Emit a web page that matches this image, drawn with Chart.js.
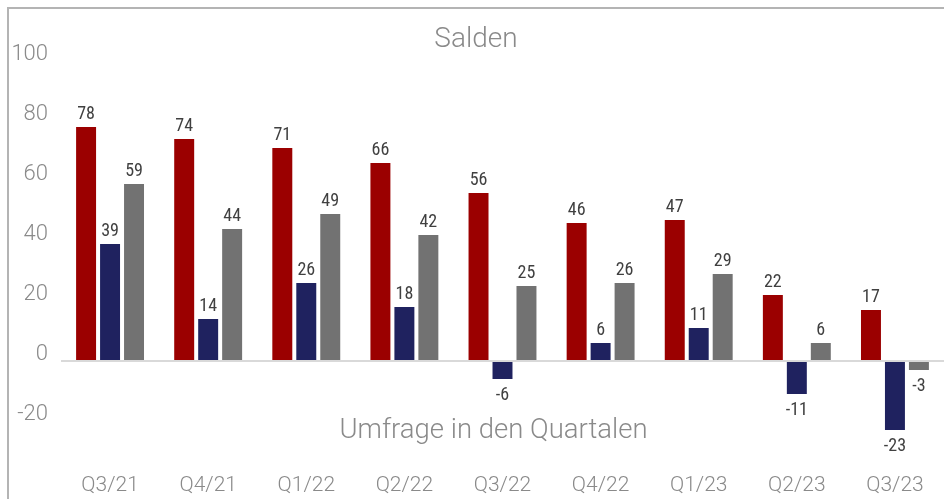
<!DOCTYPE html>
<html>
<head>
<meta charset="utf-8">
<script src="https://cdn.jsdelivr.net/npm/chart.js@4/dist/chart.umd.min.js"></script>
<style>
  html, body { margin: 0; padding: 0; background: #ffffff; }
  #wrap { position: relative; width: 944px; height: 499px; }
</style>
</head>
<body>
<div id="wrap"><canvas id="c" width="944" height="499"></canvas></div>
<script>
const categories = ['Q3/21', 'Q4/21', 'Q1/22', 'Q2/22', 'Q3/22', 'Q4/22', 'Q1/23', 'Q2/23', 'Q3/23'];
const seriesRed  = [78, 74, 71, 66, 56, 46, 47, 22, 17];
const seriesBlue = [39, 14, 26, 18, -6, 6, 11, -11, -23];
const seriesGrey = [59, 44, 49, 42, 25, 26, 29, 6, -3];
const yTickValues = [-20, 0, 20, 40, 60, 80, 100];
const chartTitle = 'Salden';
const axisTitle = 'Umfrage in den Quartalen';

const frameAndTexts = {
  id: 'frameAndTexts',
  beforeDraw(chart) {
    const ctx = chart.ctx;
    ctx.save();
    ctx.fillStyle = '#ffffff';
    ctx.fillRect(0, 0, chart.width, chart.height);
    ctx.strokeStyle = '#b4b4b4';
    ctx.lineWidth = 2;
    ctx.beginPath();
    ctx.moveTo(8, chart.height);
    ctx.lineTo(8, 8);
    ctx.lineTo(chart.width, 8);
    ctx.stroke();
    ctx.restore();
  },
  afterDatasetsDraw(chart) {
    const ctx = chart.ctx;
    const area = chart.chartArea;
    ctx.save();
    // axis title inside plot area, above the category labels
    ctx.font = '300 27.5px Roboto';
    ctx.fillStyle = '#8a8a8a';
    ctx.textAlign = 'center';
    ctx.textBaseline = 'alphabetic';
    ctx.fillText(axisTitle, (area.left + area.right) / 2 - 9, area.bottom - 13);
    // data labels
    ctx.font = '18px "Liberation Sans Narrow", "Roboto Condensed", Roboto, sans-serif';
    ctx.fillStyle = '#404040';
    chart.data.datasets.forEach((ds, di) => {
      const meta = chart.getDatasetMeta(di);
      meta.data.forEach((bar, i) => {
        const v = ds.data[i];
        if (v >= 0) {
          ctx.textBaseline = 'alphabetic';
          ctx.fillText(String(v), bar.x, bar.y - 8);
        } else {
          ctx.textBaseline = 'top';
          ctx.fillText(String(v), bar.x, bar.y + 7);
        }
      });
    });
    ctx.restore();
  }
};

const ds = (label, data, color) => ({
  label, data,
  backgroundColor: color,
  borderColor: color,
  borderWidth: 0,
  categoryPercentage: 0.733,
  barPercentage: 0.833
});

new Chart(document.getElementById('c'), {
  type: 'bar',
  data: {
    labels: categories,
    datasets: [
      ds('Rot', seriesRed, '#9b0000'),
      ds('Blau', seriesBlue, '#1f225f'),
      ds('Grau', seriesGrey, '#727272')
    ]
  },
  options: {
    responsive: false,
    animation: false,
    devicePixelRatio: 1,
    layout: { padding: { left: 8, right: 0, top: 0, bottom: 0 } },
    plugins: {
      legend: { display: false },
      tooltip: { enabled: false },
      title: {
        display: true,
        text: chartTitle,
        color: '#8a8a8a',
        font: { family: 'Roboto', size: 28, weight: '300', lineHeight: 1.2 },
        padding: { top: 23, bottom: 4.4 }
      }
    },
    scales: {
      x: {
        grid: { display: false },
        border: { display: false },
        ticks: {
          color: '#8a8a8a',
          font: { family: 'Roboto', size: 21, weight: '300' },
          padding: 14,
          maxRotation: 0
        },
        afterFit(scale) { scale.height = 48; }
      },
      y: {
        min: -30,
        max: 100,
        afterBuildTicks(scale) { scale.ticks = yTickValues.map(v => ({ value: v })); },
        afterFit(scale) { scale.width = 53; },
        border: { display: false },
        grid: {
          drawTicks: false,
          color: ctx => (ctx.tick && ctx.tick.value === 0) ? '#d9d9d9' : 'rgba(0,0,0,0)',
          lineWidth: 2
        },
        ticks: {
          color: '#8a8a8a',
          font: { family: 'Roboto', size: 22, weight: '300' },
          padding: 13,
          labelOffset: -7
        }
      }
    }
  },
  plugins: [frameAndTexts]
});
</script>
</body>
</html>
